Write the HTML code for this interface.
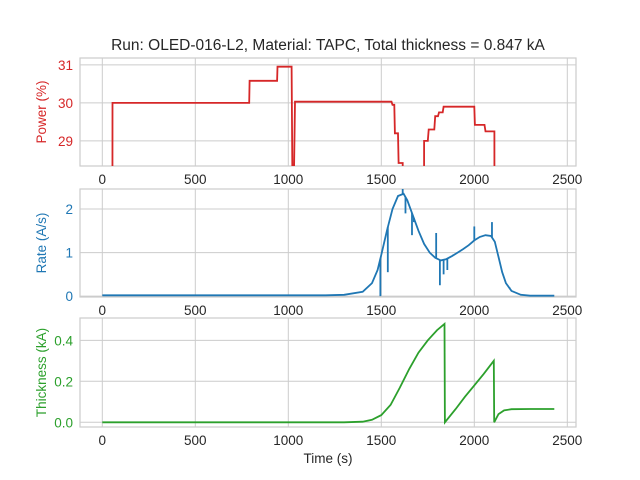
<!DOCTYPE html>
<html><head><meta charset="utf-8"><style>
html,body{margin:0;padding:0;background:#fff;overflow:hidden;width:640px;height:480px}
svg{display:block;font-family:"Liberation Sans",sans-serif}
</style></head><body>
<svg id="c" width="640" height="480">
<text x="328" y="50" font-size="15.5" text-anchor="middle" fill="#262626">Run: OLED-016-L2, Material: TAPC, Total thickness = 0.847 kA</text>
</svg>
<script>
const xTicks=[0,500,1000,1500,2000,2500];
const powerT=[0,50,55,790,792,940,942,1018,1022,1030,1036,1555,1560,1570,1573,1590,1593,1615,1620,1725,1730,1750,1755,1785,1790,1805,1810,1830,1835,2000,2003,2055,2060,2108,2112];
const powerV=[0,0,30.0,30.0,30.58,30.58,30.95,30.95,28.0,28.0,30.03,30.03,29.95,29.95,29.2,29.2,28.42,28.42,0,0,29.0,29.0,29.3,29.3,29.65,29.65,29.75,29.75,29.9,29.9,29.42,29.42,29.25,29.25,0];
const powerTicks=[29,30,31];
const rateT=[0,300,500,800,1000,1200,1300,1400,1450,1480,1500,1530,1560,1590,1620,1640,1670,1700,1730,1760,1790,1820,1850,1880,1910,1940,1970,2000,2030,2060,2090,2110,2130,2150,2170,2200,2250,2300,2430];
const rateV=[0.02,0.02,0.02,0.02,0.02,0.02,0.03,0.1,0.3,0.6,0.95,1.5,2.0,2.3,2.35,2.2,1.85,1.5,1.2,1.0,0.88,0.82,0.85,0.92,1.0,1.08,1.17,1.28,1.36,1.4,1.38,1.25,0.9,0.55,0.3,0.12,0.03,0.01,0.01];
const spikeT=[1495,1535,1615,1630,1665,1675,1795,1815,1835,1855,1885,2000,2095,2190];
const spikeV=[0.0,0.55,2.55,1.9,1.4,1.7,1.45,0.25,0.5,0.6,0.95,1.6,1.7,0.2];
const rateTicks=[0,1,2];
const thickT=[0,1300,1400,1450,1500,1550,1600,1650,1700,1750,1800,1840,1842,1900,1950,2000,2050,2105,2107,2130,2160,2200,2300,2430];
const thickV=[0,0,0.003,0.012,0.035,0.085,0.17,0.26,0.34,0.4,0.45,0.48,0,0.065,0.125,0.18,0.235,0.3,0,0.04,0.058,0.064,0.065,0.065];
const thickTicks=[0,0.2,0.4];
const thickLabels=["0.0","0.2","0.4"];

const svg=document.getElementById('c');
const NS='http://www.w3.org/2000/svg';
function mk(t,a){const e=document.createElementNS(NS,t);for(const k in a)e.setAttribute(k,a[k]);svg.appendChild(e);return e;}
const L=80,R=576;
const xs=v=>102.3+v*0.186;
function panel(top,bot,ymin,ymax,ticks,labels,color,ylabel,name){
  const ys=v=>bot-(v-ymin)/(ymax-ymin)*(bot-top);
  const g=mk('rect',{x:L,y:top,width:R-L,height:bot-top,fill:'#fff',stroke:'#ccc','stroke-width':1.2});
  
  
  xTicks.forEach(t=>{
    const l=mk('line',{x1:xs(t),x2:xs(t),y1:top,y2:bot,stroke:'#ccc','stroke-width':1});
    
    
    const tx=mk('text',{x:xs(t),y:bot+18,'font-size':13.5,'text-anchor':'middle',fill:'#262626'});
    tx.textContent=t;
    
    
  });
  ticks.forEach((t,i)=>{
    const l=mk('line',{x1:L,x2:R,y1:ys(t),y2:ys(t),stroke:'#ccc','stroke-width':1});
    
    
    const tx=mk('text',{x:L-7,y:ys(t)+5,'font-size':13.5,'text-anchor':'end',fill:color});
    tx.textContent=labels?labels[i]:t;
    
    
  });
  const yl=mk('text',{x:0,y:0,'font-size':13.5,'text-anchor':'middle',fill:color,transform:`translate(${L-34},${(top+bot)/2}) rotate(-90)`});
  yl.textContent=ylabel;
  
  
  const cp=mk('clipPath',{id:'cp'+name});
  const cr=document.createElementNS(NS,'rect');
  cr.setAttribute('x',L);cr.setAttribute('y',top);cr.setAttribute('width',R-L);cr.setAttribute('height',bot-top);
  cp.appendChild(cr);
  return ys;
}
function line(T,V,xs,ys,color,name){
  const d=T.map((t,i)=>(i?'L':'M')+xs(t).toFixed(1)+' '+ys(V[i]).toFixed(1)).join(' ');
  const p=mk('path',{d:d,fill:'none',stroke:color,'stroke-width':1.8,'clip-path':'url(#cp'+name+')'});
  
  
  return p;
}
const ys1=panel(58,166,28.34,31.18,powerTicks,null,'#d62728','Power (%)','power');
line(powerT,powerV,xs,ys1,'#d62728','power');
const ys2=panel(189,297,-0.02,2.46,rateTicks,null,'#1f77b4','Rate (A/s)','rate');
line(rateT,rateV,xs,ys2,'#1f77b4','rate');
spikeT.forEach((t,i)=>{
  let base=rateV[0];
  for(let j=1;j<rateT.length;j++){if(rateT[j]>=t){const f=(t-rateT[j-1])/(rateT[j]-rateT[j-1]);base=rateV[j-1]+f*(rateV[j]-rateV[j-1]);break;}}
  const s=mk('line',{x1:xs(t),x2:xs(t),y1:ys2(base),y2:ys2(spikeV[i]),stroke:'#1f77b4','stroke-width':1.8,'clip-path':'url(#cprate)'});
  
  
});
const ys3=panel(318,427,-0.023,0.509,thickTicks,thickLabels,'#2ca02c','Thickness (kA)','thickness');
line(thickT,thickV,xs,ys3,'#2ca02c','thickness');
const xl=mk('text',{x:328,y:463,'font-size':13.5,'text-anchor':'middle',fill:'#262626'});
xl.textContent='Time (s)';


</script>
</body></html>
